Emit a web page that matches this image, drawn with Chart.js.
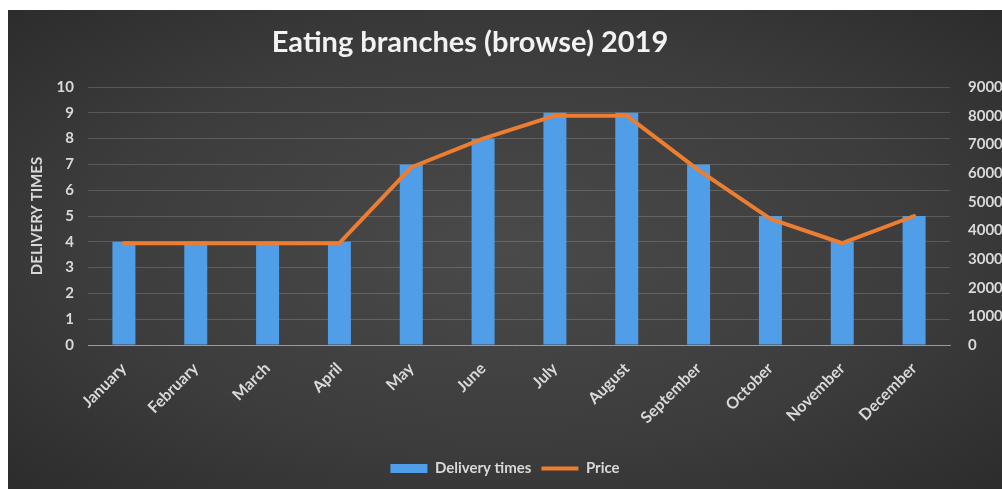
<!DOCTYPE html>
<html>
<head>
<meta charset="utf-8">
<script src="https://cdn.jsdelivr.net/npm/chart.js@4"></script>
<style>
  html, body { margin: 0; padding: 0; background: #fff; }
  #wrap {
    position: absolute; left: 8px; top: 10px; width: 994px; height: 479px;
    background: radial-gradient(ellipse at 50% 50%, #4a4a4a 0%, #3c3c3c 60%, #2c2c2c 100%);
  }
</style>
</head>
<body>
<div id="wrap"><canvas id="chart" width="994" height="479"></canvas></div>
<script>
const months = ['January', 'February', 'March', 'April', 'May', 'June', 'July', 'August', 'September', 'October', 'November', 'December'];
const deliveryTimes = [4, 4, 4, 4, 7, 8, 9, 9, 7, 5, 4, 5];
const price = [3550, 3550, 3550, 3550, 6200, 7200, 8000, 8000, 6100, 4400, 3550, 4500];
const chartTitle = 'Eating branches (browse) 2019';

const textColor = '#d9d9d9';
const fontFamily = 'Lato, "Open Sans", sans-serif';

// title is drawn a little left of centre, as in the original
const titlePlugin = {
    id: 'offsetTitle',
    afterDraw(chart) {
        const ctx = chart.ctx;
        ctx.save();
        ctx.font = 'bold 29px ' + fontFamily;
        ctx.fillStyle = '#f2f2f2';
        ctx.textAlign = 'center';
        ctx.textBaseline = 'middle';
        ctx.fillText(chartTitle, 462, 33);
        ctx.restore();
    }
};

const ctx = document.getElementById('chart').getContext('2d');
new Chart(ctx, {
    data: {
        labels: months,
        datasets: [
            {
                type: 'line', label: 'Price', data: price, yAxisID: 'y2',
                borderColor: '#ed7d31', backgroundColor: '#ed7d31', borderWidth: 4,
                pointRadius: 0, pointStyle: 'line', tension: 0, order: 0,
                borderCapStyle: 'round', borderJoinStyle: 'round'
            },
            {
                type: 'bar', label: 'Delivery times', data: deliveryTimes, yAxisID: 'y',
                backgroundColor: '#519ee8', pointStyle: 'rect',
                barPercentage: 0.32, categoryPercentage: 1, order: 1
            }
        ]
    },
    plugins: [titlePlugin],
    options: {
        responsive: false,
        animation: false,
        layout: { padding: { top: 77, left: 0, right: 0, bottom: 3 } },
        plugins: {
            title: { display: false },
            tooltip: { enabled: false },
            legend: {
                position: 'bottom',
                reverse: true,
                labels: {
                    color: textColor,
                    font: { family: fontFamily, size: 15, weight: 'bold' },
                    usePointStyle: true,
                    pointStyleWidth: 37,
                    boxHeight: 9,
                    padding: 10
                }
            }
        },
        scales: {
            x: {
                grid: { display: false },
                border: { color: '#9a9a9a', width: 1 },
                ticks: {
                    color: textColor, maxRotation: 45, minRotation: 45, padding: 6,
                    font: { family: fontFamily, size: 16, weight: 'bold' }
                },
                afterFit(scale) { scale.height = 106; }
            },
            y: {
                position: 'left', min: 0, max: 10,
                ticks: {
                    stepSize: 1, color: textColor, padding: 14,
                    font: { family: fontFamily, size: 15, weight: 'bold' }
                },
                grid: { color: 'rgba(255,255,255,0.16)', drawTicks: false },
                border: { display: false },
                title: {
                    display: true, text: 'DELIVERY TIMES', color: textColor,
                    font: { family: fontFamily, size: 15, weight: 'bold' },
                    padding: { top: 20, bottom: 0 }
                },
                afterFit(scale) { scale.width = 80; }
            },
            y2: {
                position: 'right', min: 0, max: 9000,
                ticks: {
                    stepSize: 1000, color: textColor, padding: 18,
                    font: { family: fontFamily, size: 15, weight: 'bold' },
                    callback: (v) => String(v)
                },
                grid: { display: false, drawTicks: false },
                border: { display: false },
                afterFit(scale) { scale.width = 52; }
            }
        }
    }
});
</script>
</body>
</html>
